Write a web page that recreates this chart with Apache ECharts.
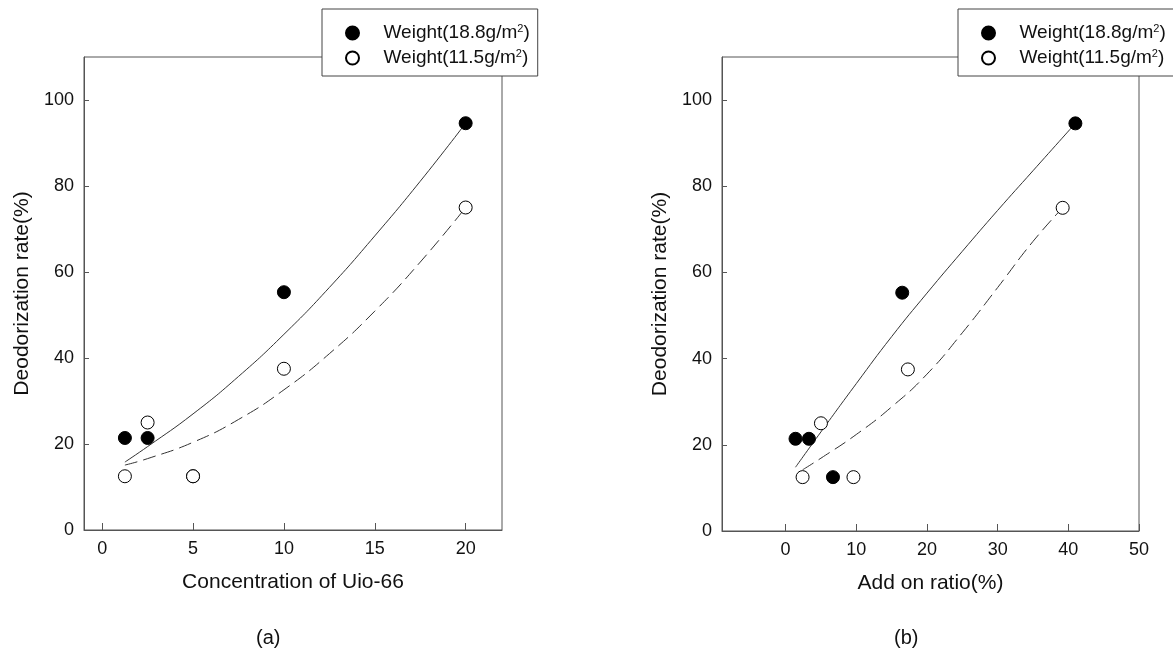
<!DOCTYPE html>
<html>
<head>
<meta charset="utf-8">
<script src="https://cdn.jsdelivr.net/npm/echarts@6/dist/echarts.min.js"></script>
<style>
  html, body { margin: 0; padding: 0; background: #fff; }
  #chart { width: 1173px; height: 652px; }
</style>
</head>
<body>
<div id="chart"></div>
<script>
// names of the two fabric weights
const seriesNames = ["Weight(18.8g/m2)", "Weight(11.5g/m2)"];

// (a) concentration of Uio-66
const concHeavy = [[1.25, 21.4], [2.5, 21.4], [5, 12.5], [10, 55.3], [20, 94.6]];
const concLight = [[1.25, 12.5], [2.5, 25], [5, 12.5], [10, 37.5], [20, 75]];
// fitted curves
const concHeavyFit = [[1.25, 15.8], [2.5, 19.4], [5, 27.0], [7.5, 35.7], [10, 45.5], [12.5, 56.4], [15, 68.4], [17.5, 81.1], [20, 94.6]];
const concLightFit = [[1.25, 15.1], [2.5, 16.6], [5, 20.4], [7.5, 25.7], [10, 32.6], [12.5, 41.0], [15, 50.9], [17.5, 62.3], [20, 75]];

// (b) add on ratio
const ratioHeavy = [[1.4, 21.4], [3.3, 21.4], [6.7, 12.5], [16.5, 55.3], [41, 94.6]];
const ratioLight = [[2.4, 12.5], [9.6, 12.5], [5, 25], [17.3, 37.5], [39.2, 75]];
const ratioHeavyFit = [[1.4, 14.8], [5, 23.0], [10, 34.2], [15, 45.1], [20, 55.2], [25, 64.9], [30, 74.4], [35, 83.6], [41, 94.6]];
const ratioLightFit = [[2.4, 14.2], [5, 16.9], [10, 22.4], [15, 28.8], [20, 36.4], [25, 46.0], [30, 56.5], [35, 67.2], [39.2, 75]];

const yTicks = [0, 20, 40, 60, 80, 100];
const concTicks = [0, 5, 10, 15, 20];
const ratioTicks = [0, 10, 20, 30, 40, 50];

const chart = echarts.init(document.getElementById("chart"));

const font = "Liberation Sans, Arial, sans-serif";
const axisColor = "#555";

function xAxisOf(gridIndex, min, max, ticks, name) {
  return {
    type: "value",
    gridIndex: gridIndex,
    min: min,
    max: max,
    name: name,
    nameLocation: "middle",
    nameGap: 42,
    nameTextStyle: { fontFamily: font, fontSize: 21, color: "#111" },
    axisLine: { show: true, onZero: false, lineStyle: { color: axisColor } },
    axisTick: { show: true, inside: true, length: 7, customValues: ticks, lineStyle: { color: axisColor } },
    axisLabel: { customValues: ticks, margin: 10, fontFamily: font, fontSize: 18, color: "#111" },
    splitLine: { show: false },
  };
}

function yAxisOf(gridIndex) {
  return {
    type: "value",
    gridIndex: gridIndex,
    min: 0,
    max: 110,
    name: "Deodorization rate(%)",
    nameLocation: "middle",
    nameGap: 51,
    nameTextStyle: { fontFamily: font, fontSize: 21, color: "#111" },
    axisLine: { show: true, onZero: false, lineStyle: { color: axisColor } },
    axisTick: { show: true, inside: true, length: 5, customValues: yTicks, lineStyle: { color: axisColor } },
    axisLabel: { customValues: yTicks, margin: 10, fontFamily: font, fontSize: 18, color: "#111" },
    splitLine: { show: false },
  };
}

function legendAt(left) {
  return {
    orient: "vertical",
    left: left,
    top: 9,
    data: seriesNames,
    icon: "circle",
    itemWidth: 52,
    itemHeight: 13,
    itemGap: 5,
    padding: [14, 8, 8, 23],
    backgroundColor: "#fff",
    borderColor: "#444",
    borderWidth: 1,
    borderRadius: 0,
    selectedMode: false,
    formatter: (name) => name.replace("m2)", "m{sup|2})"),
    textStyle: {
      fontFamily: font,
      fontSize: 19,
      lineHeight: 20,
      color: "#111",
      rich: {
        sup: { fontFamily: font, fontSize: 11, lineHeight: 11, verticalAlign: "top", color: "#111" },
      },
    },
  };
}

function fitLine(xi, data, dashed) {
  return {
    type: "line",
    xAxisIndex: xi,
    yAxisIndex: xi,
    data: data,
    smooth: 0.5,
    showSymbol: false,
    silent: true,
    lineStyle: { color: "#333", width: 1, type: dashed ? [13, 6] : "solid" },
    z: 2,
  };
}

function points(xi, name, data, filled) {
  return {
    type: "scatter",
    name: name,
    xAxisIndex: xi,
    yAxisIndex: xi,
    data: data,
    symbol: "circle",
    symbolSize: 13,
    itemStyle: filled
      ? { color: "#000", borderColor: "#000", borderWidth: 1, opacity: 1 }
      : { color: "#fff", borderColor: "#000", borderWidth: 1, opacity: 1 },
    z: filled ? 3 : 4,
  };
}

const option = {
  animation: false,
  backgroundColor: "#fff",
  title: [
    { text: "(a)", left: 256, top: 628, padding: 0, textStyle: { fontFamily: font, fontSize: 20, fontWeight: "normal", color: "#111" } },
    { text: "(b)", left: 894, top: 628, padding: 0, textStyle: { fontFamily: font, fontSize: 20, fontWeight: "normal", color: "#111" } },
  ],
  legend: [legendAt(322), legendAt(958)],
  grid: [
    { left: 84, top: 57, width: 418, height: 473, show: true, borderColor: axisColor, borderWidth: 1 },
    { left: 722, top: 57, width: 417, height: 474, show: true, borderColor: axisColor, borderWidth: 1 },
  ],
  xAxis: [
    xAxisOf(0, -1, 22, concTicks, "Concentration of Uio-66"),
    xAxisOf(1, -9, 50, ratioTicks, "Add on ratio(%)"),
  ],
  yAxis: [yAxisOf(0), yAxisOf(1)],
  series: [
    fitLine(0, concHeavyFit, false),
    fitLine(0, concLightFit, true),
    points(0, seriesNames[0], concHeavy, true),
    points(0, seriesNames[1], concLight, false),
    fitLine(1, ratioHeavyFit, false),
    fitLine(1, ratioLightFit, true),
    points(1, seriesNames[0], ratioHeavy, true),
    points(1, seriesNames[1], ratioLight, false),
  ],
};

chart.setOption(option);
</script>
</body>
</html>
